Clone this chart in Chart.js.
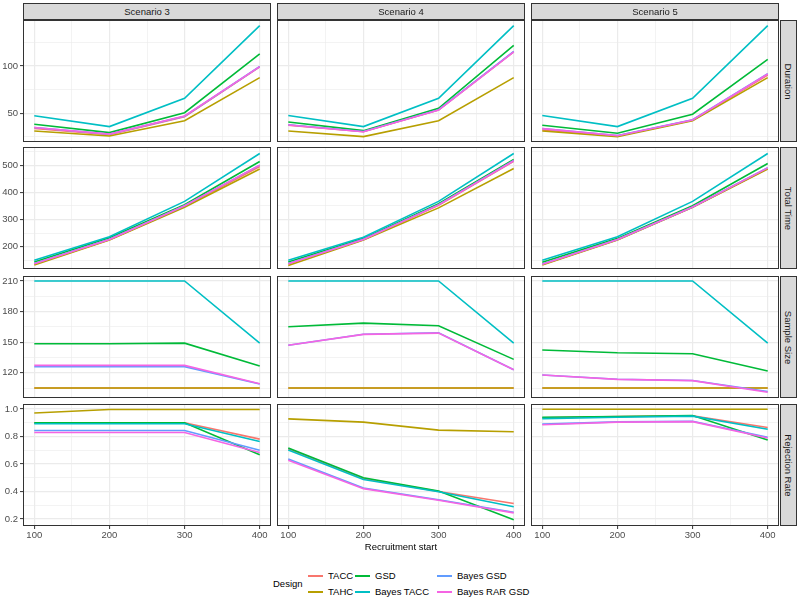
<!DOCTYPE html>
<html><head><meta charset="utf-8">
<script src="https://cdn.jsdelivr.net/npm/chart.js@4/dist/chart.umd.min.js"></script>
<style>
html,body{margin:0;padding:0;background:#fff;}
#wrap{position:relative;width:800px;height:600px;overflow:hidden;font-family:"Liberation Sans",Arial,Helvetica,sans-serif;}
canvas{position:absolute;}
.strip{position:absolute;background:#D9D9D9;border:1px solid #333;box-sizing:border-box;color:#1A1A1A;font-size:9.5px;display:flex;align-items:center;justify-content:center;}
.vtext{transform:rotate(90deg);white-space:nowrap;}
.txt{position:absolute;white-space:nowrap;font-size:9.5px;color:#000;line-height:12px;}
.key{position:absolute;height:1.5px;}
</style></head>
<body><div id="wrap"></div>
<script>
// ---- data ----
const recruitmentStart = [100, 200, 300, 400];
const designs = ['TACC', 'TAHC', 'GSD', 'Bayes TACC', 'Bayes GSD', 'Bayes RAR GSD'];
const scenarios = ['Scenario 3', 'Scenario 4', 'Scenario 5'];
const metrics = ['Duration', 'Total Time', 'Sample Size', 'Rejection Rate'];

// rows: TACC, TAHC, GSD, Bayes TACC, Bayes GSD, Bayes RAR GSD
const durationS3 = [[34,27.5,46.5,99],[31.4,26,42.2,87.7],[38.4,29.6,50.7,112.7],[47.5,36,65.9,142.6],[35,28,47,99.5],[35,28,47.2,99.3]];
const durationS4 = [[37.5,30.5,53.5,115],[31.4,25.4,42.2,87.7],[40.9,31.7,55.3,121.8],[47.7,36,65.9,142.6],[38,30.8,53.8,115.5],[37.7,30.6,53.5,114.8]];
const durationS5 = [[32.5,26,42.8,90.5],[31.4,25.4,42.2,87.7],[37.4,29,49,107],[47.7,36,65.9,142.6],[34,26.6,43.2,92],[33.8,26.4,43,91.6]];

const totalTimeS3 = [[137,226,348,495],[133,225,345.7,486],[144.4,233,354.4,513.6],[151,237,367,543],[139,228,351,500],[138,227,350.6,500]];
const totalTimeS4 = [[137,226,353,514],[131,225,343,488],[144,231,358,521],[151,235,367,543],[139,228,355,517],[138,227,354,516]];
const totalTimeS5 = [[135,226,345,488],[133,225,345,486],[143,231,351,506],[151,237,367,543],[137,227,346,491],[136,227,346,490]];

const sampleSizeS3 = [[105,105,105,105],[105,105,105,105],[148.5,148.5,149,126.6],[210,210,210,149],[125.8,125.8,126,109],[127.2,127.2,127.2,109.2]];
const sampleSizeS4 = [[105,105,105,105],[105,105,105,105],[165.1,168.7,166.1,133.1],[210,210,210,149],[147,157.8,159.2,123],[146.9,157.6,158.9,123]];
const sampleSizeS5 = [[105,105,105,105],[105,105,105,105],[142.3,139.6,138.6,121.7],[210,210,210,149],[117.8,113.6,112.4,101.6],[117.7,113.5,112.2,100.8]];

const rejectionS3 = [[0.9,0.9,0.9,0.781],[0.971,0.996,0.996,0.996],[0.899,0.899,0.899,0.668],[0.893,0.893,0.893,0.764],[0.844,0.844,0.844,0.70],[0.829,0.829,0.829,0.683]];
const rejectionS4 = [[0.71,0.495,0.40,0.313],[0.928,0.904,0.846,0.834],[0.717,0.50,0.404,0.195],[0.702,0.488,0.398,0.289],[0.637,0.425,0.34,0.25],[0.628,0.421,0.337,0.245]];
const rejectionS5 = [[0.935,0.945,0.95,0.865],[0.998,0.998,0.998,0.998],[0.94,0.945,0.952,0.774],[0.93,0.94,0.948,0.853],[0.89,0.906,0.91,0.795],[0.885,0.904,0.908,0.789]];

// tick labels
const xTicks = [100, 200, 300, 400];
const durationTicks = [50, 100];
const totalTimeTicks = [200, 300, 400, 500];
const sampleSizeTicks = [120, 150, 180, 210];
const rejectionTicks = [0.2, 0.4, 0.6, 0.8, 1.0];
const rejectionTickLabels = ['0.2', '0.4', '0.6', '0.8', '1.0'];

// ---- styling / layout ----
const colors = ['#F8766D', '#B79F00', '#00BA38', '#00BFC4', '#619CFF', '#F564E3'];
const panelData = [
  [durationS3, durationS4, durationS5],
  [totalTimeS3, totalTimeS4, totalTimeS5],
  [sampleSizeS3, sampleSizeS4, sampleSizeS5],
  [rejectionS3, rejectionS4, rejectionS5]
];
const rowTicks = [durationTicks, totalTimeTicks, sampleSizeTicks, rejectionTicks];
const rowLabels = [null, null, null, rejectionTickLabels];
const rowRange = [[19.7, 148.6], [118.5, 566.7], [95.2, 214.9], [0.1496, 1.036]];
const xRange = [85, 415];

const colLeft = [23, 277, 531];
const panelW = 248;
const rowTop = [20, 147, 276, 404];
const panelH = 122;
const PAD = 8;
const FONT = '"Liberation Sans", Arial, Helvetica, sans-serif';

const wrap = document.getElementById('wrap');

function gridValues(majors, lo, hi) {
  const step = majors[1] - majors[0];
  const vals = [];
  const start = majors[0] - step / 2;
  for (let v = start; v <= majors[majors.length - 1] + step / 2 + 1e-9; v += step / 2) {
    const r = Math.round(v * 1e6) / 1e6;
    if (r >= lo && r <= hi) vals.push(r);
  }
  return vals;
}
function isMajor(majors, v) { return majors.some(m => Math.abs(m - v) < 1e-6); }

const borderPlugin = {
  id: 'panelBorder',
  afterDraw(chart) {
    const a = chart.chartArea, ctx = chart.ctx;
    ctx.save();
    ctx.strokeStyle = '#333333';
    ctx.lineWidth = 1;
    ctx.strokeRect(a.left + 0.5, a.top + 0.5, a.right - a.left - 1, a.bottom - a.top - 1);
    ctx.restore();
  }
};

const xGrid = gridValues(xTicks, xRange[0], xRange[1]);

for (let r = 0; r < 4; r++) {
  const majors = rowTicks[r];
  const yGrid = gridValues(majors, rowRange[r][0], rowRange[r][1]);
  for (let c = 0; c < 3; c++) {
    const first = c === 0, bottom = r === 3;
    const cv = document.createElement('canvas');
    const left = first ? 0 : colLeft[c];
    const w = first ? colLeft[0] + panelW : panelW;
    const top = rowTop[r] - PAD;
    const h = panelH + PAD + (bottom ? 16 : PAD);
    cv.width = w; cv.height = h;
    cv.style.left = left + 'px'; cv.style.top = top + 'px';
    cv.style.width = w + 'px'; cv.style.height = h + 'px';
    wrap.appendChild(cv);
    const arr = panelData[r][c];
    new Chart(cv, {
      type: 'line',
      data: {
        datasets: designs.map((d, i) => ({
          label: d,
          data: recruitmentStart.map((x, j) => ({ x: x, y: arr[i][j] })),
          borderColor: colors[i],
          backgroundColor: colors[i],
          borderWidth: 1.6,
          pointRadius: 0,
          tension: 0,
          fill: false,
          order: designs.length - i
        }))
      },
      options: {
        responsive: false,
        animation: false,
        devicePixelRatio: 1,
        events: [],
        layout: { padding: { top: PAD, bottom: bottom ? 0 : PAD, left: 0, right: 0 } },
        plugins: { legend: { display: false }, tooltip: { enabled: false } },
        scales: {
          x: {
            type: 'linear', min: xRange[0], max: xRange[1],
            afterBuildTicks: s => { s.ticks = xGrid.map(v => ({ value: v })); },
            afterFit: s => { s.height = bottom ? 16 : 0; s.paddingLeft = 0; s.paddingRight = 0; },
            ticks: {
              display: bottom, autoSkip: false, maxRotation: 0, padding: 1,
              color: '#4D4D4D', font: { family: FONT, size: 9.5 },
              callback: v => isMajor(xTicks, v) ? String(v) : ''
            },
            grid: {
              color: '#EBEBEB', drawTicks: bottom, tickLength: 3, tickWidth: 1,
              lineWidth: ctx => (ctx.tick && isMajor(xTicks, ctx.tick.value)) ? 1.2 : 0.6,
              tickColor: ctx => (ctx.tick && isMajor(xTicks, ctx.tick.value)) ? '#333333' : 'rgba(0,0,0,0)'
            },
            border: { display: false }
          },
          y: {
            type: 'linear', min: rowRange[r][0], max: rowRange[r][1],
            afterBuildTicks: s => { s.ticks = yGrid.map(v => ({ value: v })); },
            afterFit: s => { s.width = first ? colLeft[0] : 0; s.paddingTop = 0; s.paddingBottom = 0; },
            ticks: {
              display: first, autoSkip: false, padding: 2,
              color: '#4D4D4D', font: { family: FONT, size: 9.5 },
              callback: v => {
                const k = majors.findIndex(m => Math.abs(m - v) < 1e-6);
                if (k < 0) return '';
                return rowLabels[r] ? rowLabels[r][k] : String(majors[k]);
              }
            },
            grid: {
              color: '#EBEBEB', drawTicks: first, tickLength: 3, tickWidth: 1,
              lineWidth: ctx => (ctx.tick && isMajor(majors, ctx.tick.value)) ? 1.2 : 0.6,
              tickColor: ctx => (ctx.tick && isMajor(majors, ctx.tick.value)) ? '#333333' : 'rgba(0,0,0,0)'
            },
            border: { display: false }
          }
        }
      },
      plugins: [borderPlugin]
    });
  }
}

// strips
scenarios.forEach((s, c) => {
  const d = document.createElement('div');
  d.className = 'strip';
  d.style.left = colLeft[c] + 'px'; d.style.top = '3px';
  d.style.width = panelW + 'px'; d.style.height = '17px';
  d.textContent = s;
  wrap.appendChild(d);
});
metrics.forEach((m, r) => {
  const d = document.createElement('div');
  d.className = 'strip';
  d.style.left = (colLeft[2] + panelW + 1) + 'px'; d.style.top = rowTop[r] + 'px';
  d.style.width = '17px'; d.style.height = panelH + 'px';
  const s = document.createElement('span'); s.className = 'vtext'; s.textContent = m;
  d.appendChild(s);
  wrap.appendChild(d);
});

// axis title
const xt = document.createElement('div');
xt.className = 'txt';
xt.textContent = 'Recruitment start';
xt.style.left = '0px'; xt.style.width = '802px'; xt.style.textAlign = 'center';
xt.style.top = '541px';
wrap.appendChild(xt);

// legend
const lt = document.createElement('div');
lt.className = 'txt'; lt.textContent = 'Design';
lt.style.left = '273px'; lt.style.top = '578px';
wrap.appendChild(lt);
const keyX = [308, 355, 437];
const rowY = [576, 592];
designs.forEach((d, i) => {
  const col = Math.floor(i / 2), row = i % 2;
  const k = document.createElement('div');
  k.className = 'key';
  k.style.left = keyX[col] + 'px'; k.style.top = (rowY[row] - 0.75) + 'px';
  k.style.width = '15px'; k.style.background = colors[i];
  wrap.appendChild(k);
  const t = document.createElement('div');
  t.className = 'txt'; t.textContent = d;
  t.style.left = (keyX[col] + 20) + 'px'; t.style.top = (rowY[row] - 6) + 'px';
  wrap.appendChild(t);
});
</script></body></html>
